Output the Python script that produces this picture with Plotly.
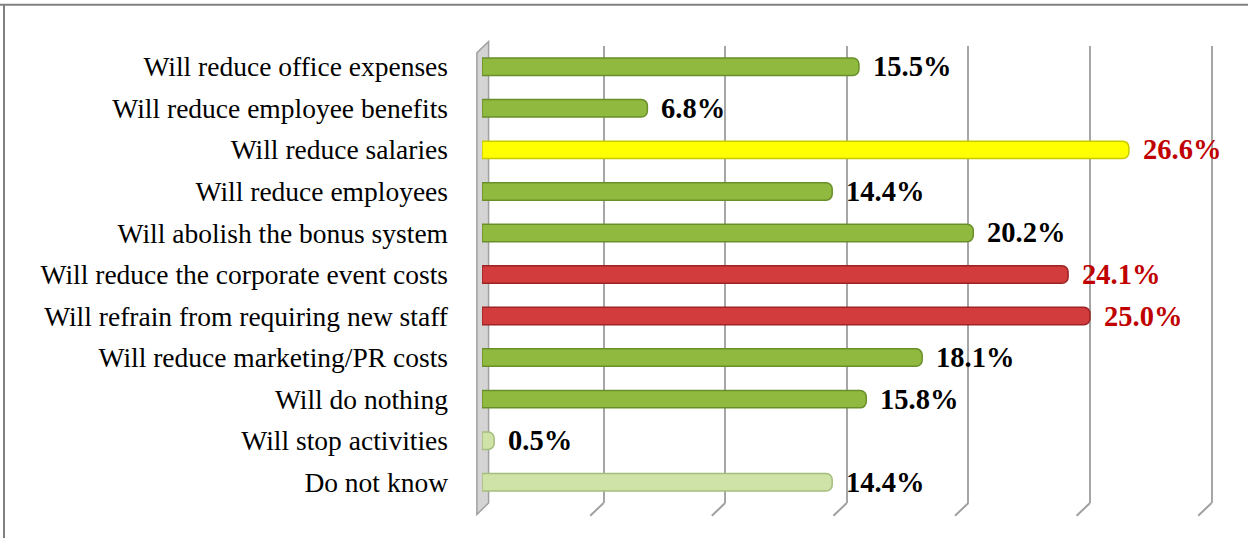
import plotly.graph_objects as go

# data (top to bottom)
measures = [
    "Will reduce office expenses",
    "Will reduce employee benefits",
    "Will reduce salaries",
    "Will reduce employees",
    "Will abolish the bonus system",
    "Will reduce the corporate event costs",
    "Will refrain from requiring new staff",
    "Will reduce marketing/PR costs",
    "Will do nothing",
    "Will stop activities",
    "Do not know",
]
shares = [15.5, 6.8, 26.6, 14.4, 20.2, 24.1, 25.0, 18.1, 15.8, 0.5, 14.4]
groups = ["g", "g", "y", "g", "g", "r", "r", "g", "g", "l", "l"]

fill = {"g": "#8fba3f", "y": "#ffff00", "r": "#d23c3c", "l": "#cfe3a8"}
edge = {"g": "#6a8f2a", "y": "#c9c900", "r": "#9c2424", "l": "#a5bd7c"}
label_col = {"g": "black", "y": "#c00000", "r": "#c00000", "l": "black"}

serif = "Liberation Serif"

fig = go.Figure()

fig.add_trace(go.Bar(
    y=measures, x=shares, orientation="h",
    marker=dict(color=[fill[g] for g in groups],
                line=dict(color=[edge[g] for g in groups], width=1.5),
                cornerradius=6),
    hoverinfo="x+y",
))

# value labels
for m, v, g in zip(measures, shares, groups):
    fig.add_annotation(x=v, y=m, text="<b>%.1f%%</b>" % v, showarrow=False,
                       xanchor="left", xshift=12,
                       font=dict(family=serif, size=28.5, color=label_col[g]))

# gray side wall (3d look)
fig.add_shape(type="path", xref="paper", yref="paper",
              path="M -0.007 -0.025 L -0.007 0.985 L 0.009 1.01 L 0.009 0.0 Z",
              fillcolor="#d4d4d4", line=dict(color="#a0a0a0", width=1.5),
              layer="below")

# little slanted floor ticks under each gridline
for t in range(5, 35, 5):
    fig.add_shape(type="line", xref="x", yref="paper", x0=t, x1=t - 0.55,
                  y0=0.0, y1=-0.028, line=dict(color="#a0a0a0", width=2))

# outer frame
fig.add_shape(type="line", xref="paper", yref="paper", x0=-0.7, x1=1.1,
              y0=1.09, y1=1.09, line=dict(color="#808080", width=2))
fig.add_shape(type="line", xref="paper", yref="paper", x0=-0.653, x1=-0.653,
              y0=1.09, y1=-0.2, line=dict(color="#808080", width=2))

fig.update_layout(
    width=1248, height=538,
    margin=dict(l=482, r=34, t=46, b=35),
    paper_bgcolor="white", plot_bgcolor="white",
    bargap=0.58,
    showlegend=False,
    font=dict(family=serif, size=27.5, color="black"),
)
fig.update_xaxes(range=[0, 30.1], dtick=5, showticklabels=False,
                 showgrid=True, gridcolor="#a6a6a6", gridwidth=2,
                 zeroline=False, fixedrange=True)
fig.update_yaxes(categoryorder="array", categoryarray=measures,
                 autorange="reversed", ticklabelstandoff=33,
                 showgrid=False, fixedrange=True)

fig.write_html("out.html", config={"displayModeBar": False},
               post_script="document.body.style.margin='0';")
